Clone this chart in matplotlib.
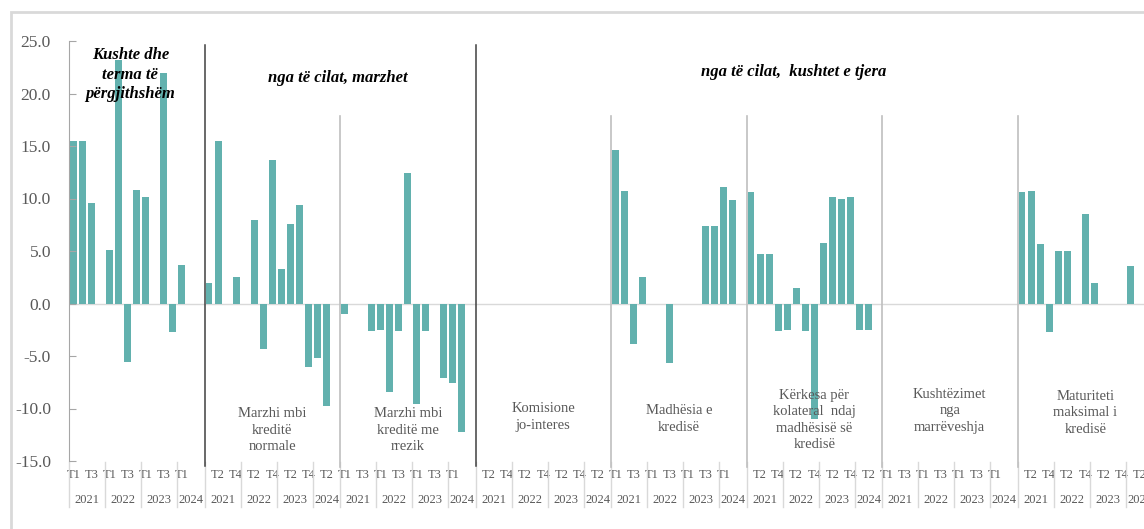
import matplotlib.pyplot as plt
from matplotlib.patches import Rectangle
import numpy as np

plt.rcParams['font.family'] = ['Liberation Serif', 'DejaVu Serif']

# each group: 2021 T1 ... 2024 T2, then one empty slot
quarters = ['T1', 'T2', 'T3', 'T4'] * 3 + ['T1', 'T2', '']
years = ['2021', '2022', '2023', '2024']
year_centers = [1.5, 5.5, 9.5, 13.0]
year_bounds = [-0.5, 3.5, 7.5, 11.5]

kushte_pergjithshme = [15.5, 15.5, 9.6, 0.0, 5.1, 23.2, -5.6, 10.8, 10.1, 0.0, 22.0, -2.7, 3.7, 0.0]
marzhi_normale = [2.0, 15.5, 0.0, 2.5, 0.0, 8.0, -4.3, 13.7, 3.3, 7.6, 9.4, -6.0, -5.2, -9.8]
marzhi_rrezik = [-1.0, 0.0, 0.0, -2.6, -2.5, -8.4, -2.6, 12.4, -9.6, -2.6, 0.0, -7.1, -7.6, -12.2]
komisione = [0.0, 0.0, 0.0, 0.0, 0.0, 0.0, 0.0, 0.0, 0.0, 0.0, 0.0, 0.0, 0.0, 0.0]
madhesia = [14.6, 10.7, -3.9, 2.5, 0.0, 0.0, -5.7, 0.0, 0.0, 0.0, 7.4, 7.4, 11.1, 9.9]
kolateral = [10.6, 4.7, 4.7, -2.6, -2.5, 1.5, -2.6, -11.0, 5.8, 10.1, 10.0, 10.1, -2.5, -2.5]
kushtezimet = [0.0, 0.0, 0.0, 0.0, 0.0, 0.0, 0.0, 0.0, 0.0, 0.0, 0.0, 0.0, 0.0, 0.0]
maturiteti = [10.6, 10.7, 5.7, -2.7, 5.0, 5.0, 0.0, 8.5, 2.0, 0.0, 0.0, 0.0, 3.6, 0.0]

series = [kushte_pergjithshme, marzhi_normale, marzhi_rrezik, komisione,
          madhesia, kolateral, kushtezimet, maturiteti]

bottom_labels = [None,
                 'Marzhi mbi\nkreditë\nnormale',
                 'Marzhi mbi\nkreditë me\nrrezik',
                 'Komisione\njo-interes',
                 'Madhësia e\nkredisë',
                 'Kërkesa për\nkolateral  ndaj\nmadhësisë së\nkredisë',
                 'Kushtëzimet\nnga\nmarrëveshja',
                 'Maturiteti\nmaksimal i\nkredisë']
# label top positions (data y)
bottom_label_y = [None, -9.9, -9.9, -9.4, -9.6, -8.1, -8.0, -8.2]

bar_color = '#62B1AE'
gray_txt = '#595959'
n = 15

fig = plt.figure(figsize=(11.44, 5.29), dpi=100)
ax = fig.add_axes([69 / 1144, (529 - 461) / 529, 1084 / 1144, 420 / 529])

for g, vals in enumerate(series):
    x = g * n + np.arange(len(vals))
    ax.bar(x, vals, width=0.77, color=bar_color, linewidth=0)

ax.set_xlim(-0.5, 8 * n - 0.5)
ax.set_ylim(-15, 25)
ax.axhline(0, color='#D9D9D9', lw=1, zorder=0)

# y axis
yt = np.arange(-15, 26, 5)
ax.set_yticks(yt)
ax.set_yticklabels([f'{v:.1f}' for v in yt], fontsize=12.5, color=gray_txt)
ax.tick_params(axis='y', direction='in', length=5, color='#A6A6A6', pad=13)
for s in ['top', 'right', 'bottom']:
    ax.spines[s].set_visible(False)
ax.spines['left'].set_color('#A6A6A6')

# x axis: every other category label
all_cats = quarters * 8
ticks = list(range(0, 8 * n, 2))
ax.set_xticks(ticks)
ax.set_xticklabels([all_cats[i] for i in ticks], fontsize=9, color=gray_txt)
ax.tick_params(axis='x', length=0, pad=6)

xtr = ax.get_xaxis_transform()
for g in range(8):
    for yc, yl in zip(year_centers, years):
        ax.text(g * n + yc, -0.092, yl, transform=xtr, ha='center', va='center',
                fontsize=9, color=gray_txt)
    for b in year_bounds:
        ax.plot([g * n + b] * 2, [-0.003, -0.11], transform=xtr, color='#D9D9D9',
                lw=1, clip_on=False)

# group separators
for g in range(1, 8):
    xs = g * n - 0.5
    if g in (1, 3):
        ax.plot([xs, xs], [24.6, -15.5], color='#404040', lw=1.1, clip_on=False)
    else:
        ax.plot([xs, xs], [17.9, -15.6], color='#BFBFBF', lw=1.2, clip_on=False)

# group headings
ax.text(6.3, 24.4, 'Kushte dhe\nterma të\npërgjithshëm', ha='center', va='top',
        fontsize=12, fontweight='bold', fontstyle='italic', linespacing=1.3)
ax.text(29.3, 21.5, 'nga të cilat, marzhet', ha='center', va='center',
        fontsize=12, fontweight='bold', fontstyle='italic')
ax.text(5 * n + 4.7, 22.0, 'nga të cilat,  kushtet e tjera', ha='center', va='center',
        fontsize=12, fontweight='bold', fontstyle='italic')

for g in range(1, 8):
    ax.text(g * n + 7.0, bottom_label_y[g], bottom_labels[g], ha='center', va='top',
            fontsize=10.5, color=gray_txt, linespacing=1.35)

# outer frame
fig.patches.append(Rectangle((11 / 1144, -0.1), 1.2, (529 - 12) / 529 + 0.1,
                             transform=fig.transFigure, fill=False,
                             edgecolor='#D9D9D9', lw=2))

plt.savefig('out.png', dpi=100)
